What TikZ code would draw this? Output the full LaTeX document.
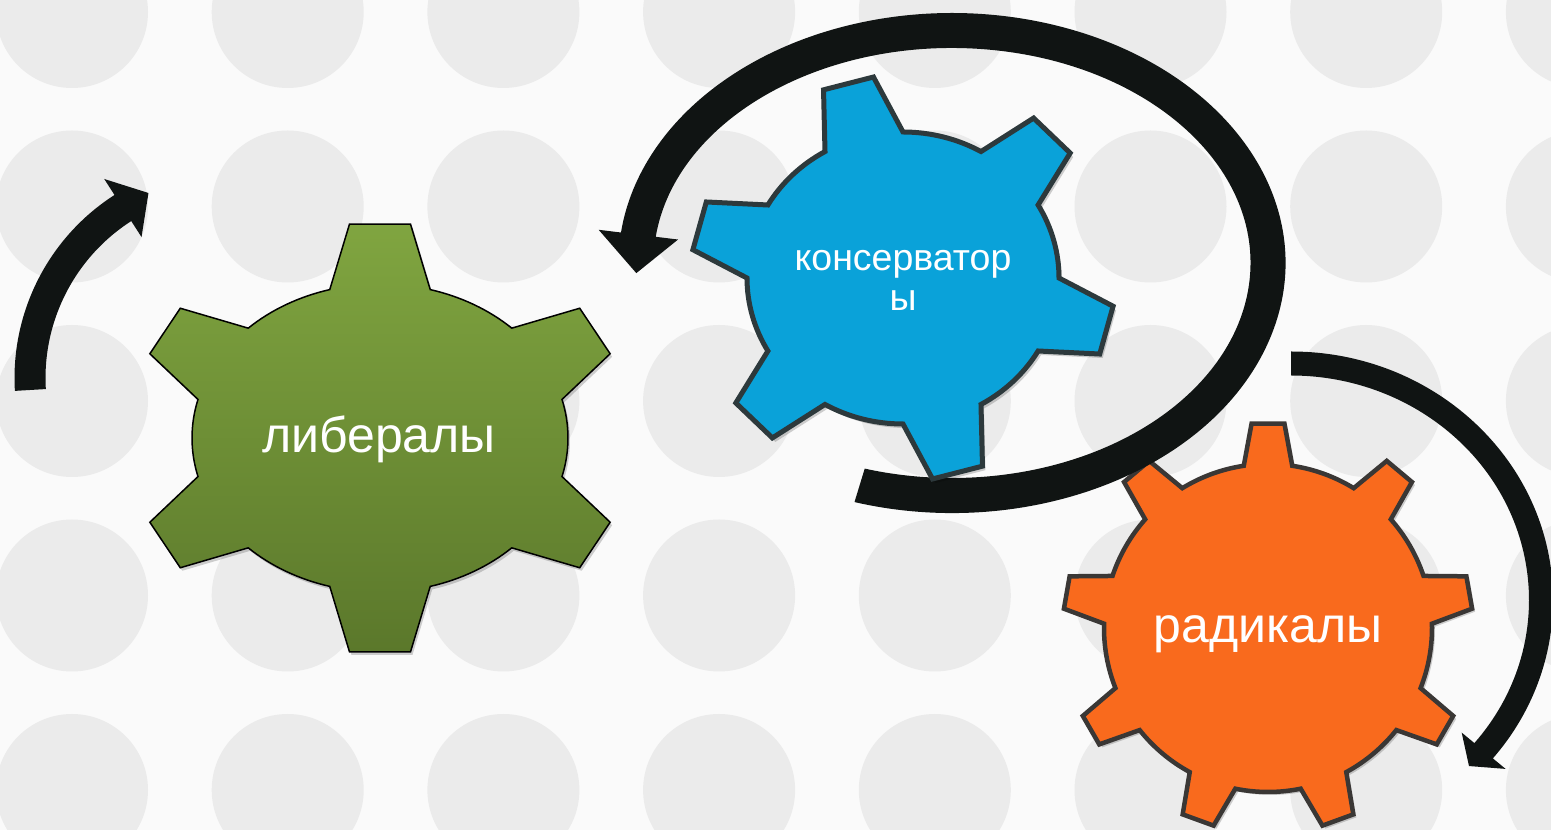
\documentclass[tikz,border=0pt]{standalone}
\usepackage{fontspec}
\setmainfont{Liberation Sans}
\definecolor{paper}{HTML}{FAFAFA}
\definecolor{dotgrey}{HTML}{EBEBEB}
\definecolor{greentop}{HTML}{80A540}
\definecolor{greenbot}{HTML}{5B782B}
\definecolor{skyblue}{HTML}{0AA2D9}
\definecolor{bluerim}{HTML}{2D393C}
\definecolor{tangerine}{HTML}{F96A1D}
\definecolor{orangerim}{HTML}{3A3735}
\definecolor{arrowblack}{HTML}{101413}
% teeth, first tooth angle, tip half angle, base half angle, tip x radius, tip y radius
\newcommand{\gearpath}[6]{({#2-#4}:1)
  \foreach \k in {1,...,#1} {
    -- ({#2+(\k-1)*360/#1-#3}:#5 and #6) -- ({#2+(\k-1)*360/#1+#3}:#5 and #6)
    -- ({#2+(\k-1)*360/#1+#4}:1)
    arc[start angle={#2+(\k-1)*360/#1+#4}, end angle={#2+\k*360/#1-#4}, radius=1]
  } -- cycle}
\begin{document}
\begin{tikzpicture}[x=1pt, y=1pt,
  dot/.style={fill=dotgrey},
  arrowfill/.style={fill=arrowblack},
  gearshadow/.style={fill=black, opacity=0.18},
  gearlabel/.style={text=white, anchor=base, align=center}]
\useasboundingbox (0,0) rectangle (1551,830);
\clip (0,0) rectangle (1551,830);
\fill[paper] (0,0) rectangle (1551,830);
% dotted background
\foreach \i in {0,...,7}
  \foreach \j in {0,...,4}
    \fill[dot] ({72+215.7*\i},{818-194.5*\j}) circle (76);

\coordinate (libc) at (380,392);
\coordinate (konc) at (903,552);
\coordinate (radc) at (1268,202);

% liberals
\fill[gearshadow, shift={(libc)}, xshift=2, yshift=-3, xscale=188, yscale=154] \gearpath{6}{90}{7}{15.5}{1.33}{1.40};
\draw[top color=greentop, bottom color=greenbot, draw=black, line width=1.5,
  shift={(libc)}, xscale=188, yscale=154] \gearpath{6}{90}{7}{15.5}{1.33}{1.40};

% radicals
\fill[gearshadow, shift={(radc)}, xshift=3, yshift=-3, scale=164] \gearpath{9}{90}{4.6}{8.5}{1.25}{1.25};
\draw[fill=tangerine, draw=orangerim, line width=4.5,
  shift={(radc)}, scale=164] \gearpath{9}{90}{4.6}{8.5}{1.25}{1.25};

% round arrows
\begin{scope}[shift={(232,452)}]
  \fill[arrowfill] (183.4:217.5) arc[start angle=183.4, end angle=122.7, radius=217.5]
    -- (122.7:236.5) -- (114.3:203) -- (122.7:167.5) -- (122.7:186.5)
    arc[start angle=122.7, end angle=183.4, radius=186.5] -- cycle;
\end{scope}
\begin{scope}[shift={(952,567)}]
  \fill[arrowfill] (-107:333.5 and 250) arc[start angle=-107, end angle=173, x radius=333.5, y radius=250]
    -- (173:356 and 272.5) -- (182.5:316 and 232.5) -- (173:276 and 192.5) -- (173:298.5 and 215)
    arc[start angle=173, end angle=-107, x radius=298.5, y radius=215] -- cycle;
\end{scope}
\begin{scope}[shift={(1291,230)}]
  \fill[arrowfill] (90:262 and 248.5) arc[start angle=90, end angle=-39.6, x radius=262, y radius=248.5]
    -- (-39.6:278.5 and 265) -- (-44.6:250 and 236.5) -- (-39.6:221.5 and 208) -- (-39.6:238 and 224.5)
    arc[start angle=-39.6, end angle=90, x radius=238, y radius=224.5] -- cycle;
\end{scope}

% conservatives
\fill[gearshadow, shift={(konc)}, xshift=3, yshift=-4, xscale=156, yscale=146] \gearpath{6}{105}{7}{15}{1.36}{1.39};
\draw[fill=skyblue, draw=bluerim, line width=5,
  shift={(konc)}, xscale=156, yscale=146] \gearpath{6}{105}{7}{15}{1.36}{1.39};

\node[gearlabel, font=\fontsize{50}{56}\selectfont] (lib) at (379,377) {либералы};
\node[gearlabel, font=\fontsize{37.5}{40}\selectfont] (kons) at (903,519) {консерватор\\ы};
\node[gearlabel, font=\fontsize{50}{56}\selectfont] (rad) at (1268,187) {радикалы};
\end{tikzpicture}
\end{document}
